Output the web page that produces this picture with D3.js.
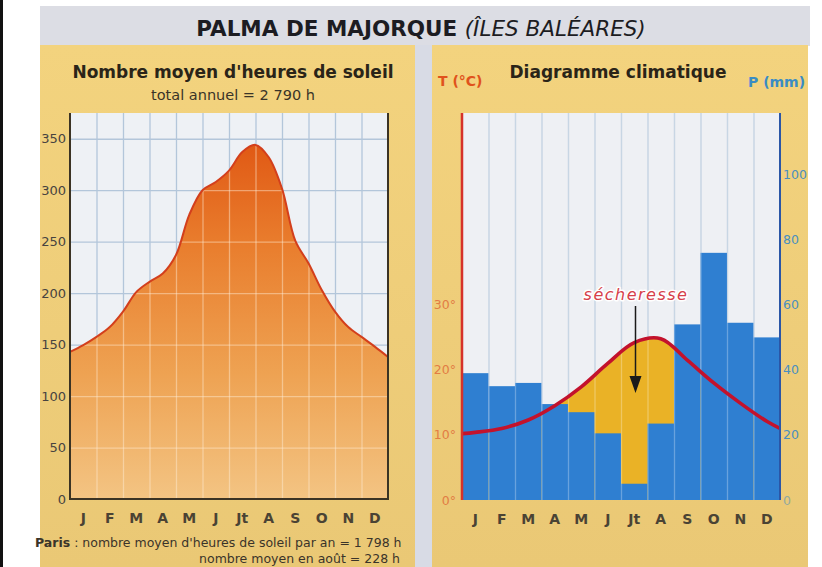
<!DOCTYPE html>
<html>
<head>
<meta charset="utf-8">
<script src="https://cdn.jsdelivr.net/npm/d3@7"></script>
<style>
  html, body { margin: 0; padding: 0; background: #ffffff; }
  svg { display: block; }
  text { font-family: "DejaVu Sans", "Liberation Sans", Arial, sans-serif; }
</style>
</head>
<body>
<svg id="chart" width="822" height="567"></svg>
<script>
// ---- data ----------------------------------------------------------------
const monthLabels = ["J", "F", "M", "A", "M", "J", "Jt", "A", "S", "O", "N", "D"];

// mean sunshine hours, read every half month from 1 January to 31 December
const sunshineProfile = [143, 149.5, 157.5, 167, 182, 201, 211, 219, 237, 276, 300, 308,
                         319, 337, 344, 332, 301.5, 251, 229, 203, 182, 167, 157.5, 148, 138];
const sunshineTicks = [0, 50, 100, 150, 200, 250, 300, 350];

// monthly mean temperature (°C) and values at the start / end of the year
const temperature = [10.4, 11.0, 12.3, 14.5, 17.4, 21.0, 24.2, 24.8, 21.5, 18.0, 14.9, 12.1];
const temperatureEnds = [10.2, 11.0];
// monthly precipitation (mm)
const precipitation = [39, 35, 36, 29.5, 27, 20.5, 5, 23.5, 54, 76, 54.5, 50];

const tempTicks = [0, 10, 20, 30];
const precipTicks = [0, 20, 40, 60, 80, 100];
const precipGrid = [20, 40, 60, 80, 100];

// ---- page frame -----------------------------------------------------------
const svg = d3.select("#chart");
const defs = svg.append("defs");

const panelGrad = defs.append("linearGradient").attr("id", "panel")
  .attr("x1", 0).attr("y1", 0).attr("x2", 0).attr("y2", 1);
panelGrad.append("stop").attr("offset", 0).attr("stop-color", "#f3d37e");
panelGrad.append("stop").attr("offset", 1).attr("stop-color", "#eac875");

svg.append("rect").attr("x", 0).attr("y", 0).attr("width", 822).attr("height", 567).attr("fill", "#ffffff");
svg.append("rect").attr("x", 0).attr("y", 0).attr("width", 3).attr("height", 567).attr("fill", "#111");
svg.append("rect").attr("x", 40).attr("y", 6).attr("width", 770).attr("height", 40).attr("fill", "#dcdde4");
svg.append("rect").attr("x", 40).attr("y", 45).attr("width", 375).attr("height", 522).attr("fill", "url(#panel)");
svg.append("rect").attr("x", 415).attr("y", 45).attr("width", 17).attr("height", 522).attr("fill", "#d8dbe5");
svg.append("rect").attr("x", 432).attr("y", 45).attr("width", 376).attr("height", 522).attr("fill", "url(#panel)");

// title
const title = svg.append("text").attr("x", 421).attr("y", 36).attr("text-anchor", "middle")
  .attr("fill", "#1c1c22").attr("font-size", 21.5);
title.append("tspan").attr("font-weight", "bold").text("PALMA DE MAJORQUE ");
title.append("tspan").attr("font-style", "italic").text("(ÎLES BALÉARES)");

// ---- left chart: sunshine --------------------------------------------------
const L = { x0: 70, x1: 388, top: 113, bottom: 499 };
const xSun = d3.scaleLinear().domain([0, 12]).range([L.x0, L.x1]);
const ySun = d3.scaleLinear().domain([0, 375]).range([L.bottom, L.top]);
const bandSun = d3.scaleBand().domain(d3.range(12)).range([L.x0, L.x1]);

svg.append("text").attr("x", 233).attr("y", 78).attr("text-anchor", "middle")
  .attr("font-weight", "bold").attr("font-size", 17).attr("fill", "#2a2418")
  .text("Nombre moyen d'heures de soleil");
svg.append("text").attr("x", 233).attr("y", 100).attr("text-anchor", "middle")
  .attr("font-size", 14.5).attr("fill", "#3a3428")
  .text("total annuel = 2 790 h");

svg.append("rect").attr("x", L.x0).attr("y", L.top)
  .attr("width", L.x1 - L.x0).attr("height", L.bottom - L.top).attr("fill", "#eef1f5");

function gridSun(g, color, width) {
  g.append("g").attr("transform", `translate(${L.x0},0)`)
    .call(d3.axisLeft(ySun).tickValues(sunshineTicks.slice(1)).tickSize(-(L.x1 - L.x0)).tickFormat(""))
    .call(a => a.select(".domain").remove())
    .call(a => a.selectAll("line").attr("stroke", color).attr("stroke-width", width));
  g.append("g").attr("transform", `translate(0,${L.bottom})`)
    .call(d3.axisBottom(xSun).tickValues(d3.range(1, 12)).tickSize(-(L.bottom - L.top)).tickFormat(""))
    .call(a => a.select(".domain").remove())
    .call(a => a.selectAll("line").attr("stroke", color).attr("stroke-width", width));
}
gridSun(svg.append("g"), "#b3c6da", 1.3);

const sunGrad = defs.append("linearGradient").attr("id", "sunFill")
  .attr("gradientUnits", "userSpaceOnUse").attr("x1", 0).attr("x2", 0)
  .attr("y1", ySun(350)).attr("y2", ySun(0));
[[0, "#e05713"], [0.3, "#e97e2e"], [0.65, "#eea252"], [1, "#f3c483"]].forEach(([o, c]) =>
  sunGrad.append("stop").attr("offset", o).attr("stop-color", c));

const sunPts = sunshineProfile.map((v, i) => [i * 0.5, v]);
svg.append("path").datum(sunPts)
  .attr("d", d3.area().x(d => xSun(d[0])).y0(ySun(0)).y1(d => ySun(d[1])).curve(d3.curveCatmullRom.alpha(0.5)))
  .attr("fill", "url(#sunFill)");

// light grid seen through the filled area
const sunClip = defs.append("clipPath").attr("id", "sunClip");
sunClip.append("path").datum(sunPts)
  .attr("d", d3.area().x(d => xSun(d[0])).y0(ySun(0)).y1(d => ySun(d[1])).curve(d3.curveCatmullRom.alpha(0.5)));
gridSun(svg.append("g").attr("clip-path", "url(#sunClip)"), "rgba(255,238,215,0.45)", 1.3);

svg.append("path").datum(sunPts)
  .attr("d", d3.line().x(d => xSun(d[0])).y(d => ySun(d[1])).curve(d3.curveCatmullRom.alpha(0.5)))
  .attr("fill", "none").attr("stroke", "#d33f1c").attr("stroke-width", 2);

// frame
svg.append("path")
  .attr("d", `M${L.x0},${L.top}V${L.bottom}H${L.x1}V${L.top}`)
  .attr("fill", "none").attr("stroke", "#3b3324").attr("stroke-width", 2);

svg.append("g").attr("transform", `translate(${L.x0},0)`)
  .call(d3.axisLeft(ySun).tickValues(sunshineTicks).tickSize(0).tickPadding(4))
  .call(a => a.select(".domain").remove())
  .call(a => a.selectAll("text").attr("font-size", 13).attr("fill", "#474340")
    .attr("font-family", "DejaVu Sans, sans-serif"));

svg.append("g").attr("transform", `translate(0,${L.bottom})`)
  .call(d3.axisBottom(bandSun).tickSize(0).tickPadding(14).tickFormat(i => monthLabels[i]))
  .call(a => a.select(".domain").remove())
  .call(a => a.selectAll("text").attr("font-size", 14).attr("font-weight", "bold").attr("fill", "#4a4334")
    .attr("font-family", "DejaVu Sans, sans-serif"));

const note = svg.append("text").attr("x", 35).attr("y", 547).attr("font-size", 12.5)
  .attr("fill", "#3a342a").attr("font-family", "Liberation Sans, Arial, sans-serif");
note.append("tspan").attr("font-weight", "bold").text("Paris");
note.append("tspan").text(" : nombre moyen d'heures de soleil par an = 1 798 h");
svg.append("text").attr("x", 400).attr("y", 563).attr("text-anchor", "end").attr("font-size", 12.5)
  .attr("fill", "#3a342a").attr("font-family", "Liberation Sans, Arial, sans-serif")
  .text("nombre moyen en août = 228 h");

// ---- right chart: climate diagram ------------------------------------------
const R = { x0: 462, x1: 780, top: 113, bottom: 500 };
const xClim = d3.scaleLinear().domain([0, 12]).range([R.x0, R.x1]);
const bandClim = d3.scaleBand().domain(d3.range(12)).range([R.x0, R.x1]);
const yTemp = d3.scaleLinear().domain([0, 59.5]).range([R.bottom, R.top]);
const yPrec = d3.scaleLinear().domain([0, 119]).range([R.bottom, R.top]);

svg.append("text").attr("x", 618).attr("y", 78).attr("text-anchor", "middle")
  .attr("font-weight", "bold").attr("font-size", 17).attr("fill", "#2a2418")
  .text("Diagramme climatique");
svg.append("text").attr("x", 438).attr("y", 86).attr("font-weight", "bold").attr("font-size", 14)
  .attr("fill", "#e0521c").text("T (°C)");
svg.append("text").attr("x", 748).attr("y", 87).attr("font-weight", "bold").attr("font-size", 14)
  .attr("fill", "#3a8cc4").text("P (mm)");

svg.append("rect").attr("x", R.x0).attr("y", R.top)
  .attr("width", R.x1 - R.x0).attr("height", R.bottom - R.top).attr("fill", "#eef0f4");

function gridClim(g, color, width) {
  g.append("g").attr("transform", `translate(${R.x1},0)`)
    .call(d3.axisLeft(yPrec).tickValues(precipGrid).tickSize(-(R.x1 - R.x0)).tickFormat(""))
    .call(a => a.select(".domain").remove())
    .call(a => a.selectAll("line").attr("transform", `translate(${R.x1 - R.x0},0)`)
      .attr("stroke", color).attr("stroke-width", width));
  g.append("g").attr("transform", `translate(0,${R.bottom})`)
    .call(d3.axisBottom(xClim).tickValues(d3.range(1, 12)).tickSize(-(R.bottom - R.top)).tickFormat(""))
    .call(a => a.select(".domain").remove())
    .call(a => a.selectAll("line").attr("stroke", color).attr("stroke-width", width));
}
gridClim(svg.append("g"), "#b3c6da", 1.3);

const climClip = defs.append("clipPath").attr("id", "climClip");
climClip.append("rect").attr("x", R.x0).attr("y", R.top)
  .attr("width", R.x1 - R.x0).attr("height", R.bottom - R.top);

const tempPts = [[0, temperatureEnds[0]]]
  .concat(temperature.map((t, i) => [i + 0.5, t]))
  .concat([[12, temperatureEnds[1]]]);
const tempCurve = d3.curveCatmullRom.alpha(0.5);

// dry season: the temperature curve standing above the rainfall bars (P < 2T)
svg.append("path").datum(tempPts).attr("clip-path", "url(#climClip)")
  .attr("d", d3.area().x(d => xClim(d[0])).y0(yTemp(0)).y1(d => yTemp(d[1])).curve(tempCurve))
  .attr("fill", "#eab226");

svg.append("g").selectAll("rect").data(precipitation).join("rect")
  .attr("x", (d, i) => bandClim(i))
  .attr("width", bandClim.bandwidth())
  .attr("y", d => yPrec(d))
  .attr("height", d => yPrec(0) - yPrec(d))
  .attr("fill", "#2f7fd1");

gridClim(svg.append("g"), "rgba(255,255,255,0.28)", 1.3);

svg.append("path").datum(tempPts).attr("clip-path", "url(#climClip)")
  .attr("d", d3.line().x(d => xClim(d[0])).y(d => yTemp(d[1])).curve(tempCurve))
  .attr("fill", "none").attr("stroke", "#c3122c").attr("stroke-width", 3.6)
  .attr("stroke-linecap", "round");

// axes
svg.append("line").attr("x1", R.x0).attr("x2", R.x0).attr("y1", R.top).attr("y2", R.bottom)
  .attr("stroke", "#d6322a").attr("stroke-width", 2.5);
svg.append("line").attr("x1", R.x1).attr("x2", R.x1).attr("y1", R.top).attr("y2", R.bottom)
  .attr("stroke", "#2b56a6").attr("stroke-width", 2);

svg.append("g").attr("transform", `translate(${R.x0},0)`)
  .call(d3.axisLeft(yTemp).tickValues(tempTicks).tickSize(0).tickPadding(6).tickFormat(d => d + "°"))
  .call(a => a.select(".domain").remove())
  .call(a => a.selectAll("text").attr("font-size", 12.5).attr("fill", "#e27c44")
    .attr("font-family", "DejaVu Sans, sans-serif"));

svg.append("g").attr("transform", `translate(${R.x1},0)`)
  .call(d3.axisRight(yPrec).tickValues(precipTicks).tickSize(0).tickPadding(3))
  .call(a => a.select(".domain").remove())
  .call(a => a.selectAll("text").attr("font-size", 12.5).attr("fill", "#4a8fbf")
    .attr("opacity", d => d === 0 ? 0.55 : 1)
    .attr("font-family", "DejaVu Sans, sans-serif"));

svg.append("g").attr("transform", `translate(0,${R.bottom})`)
  .call(d3.axisBottom(bandClim).tickSize(0).tickPadding(14).tickFormat(i => monthLabels[i]))
  .call(a => a.select(".domain").remove())
  .call(a => a.selectAll("text").attr("font-size", 14).attr("font-weight", "bold").attr("fill", "#4a4334")
    .attr("font-family", "DejaVu Sans, sans-serif"));

// drought annotation
svg.append("text").attr("x", 636).attr("y", 300).attr("text-anchor", "middle")
  .attr("font-style", "italic").attr("font-size", 16).attr("letter-spacing", 1.5)
  .attr("fill", "#d6404a").attr("stroke", "#ffffff").attr("stroke-width", 3)
  .attr("stroke-linejoin", "round").attr("paint-order", "stroke")
  .text("sécheresse");
svg.append("line").attr("x1", 635.5).attr("x2", 635.5).attr("y1", 306).attr("y2", 380)
  .attr("stroke", "#1a1a1a").attr("stroke-width", 1.5);
svg.append("path").attr("d", "M629.5,376 L641.5,376 L635.5,393 Z").attr("fill", "#1a1a1a");
</script>
</body>
</html>
